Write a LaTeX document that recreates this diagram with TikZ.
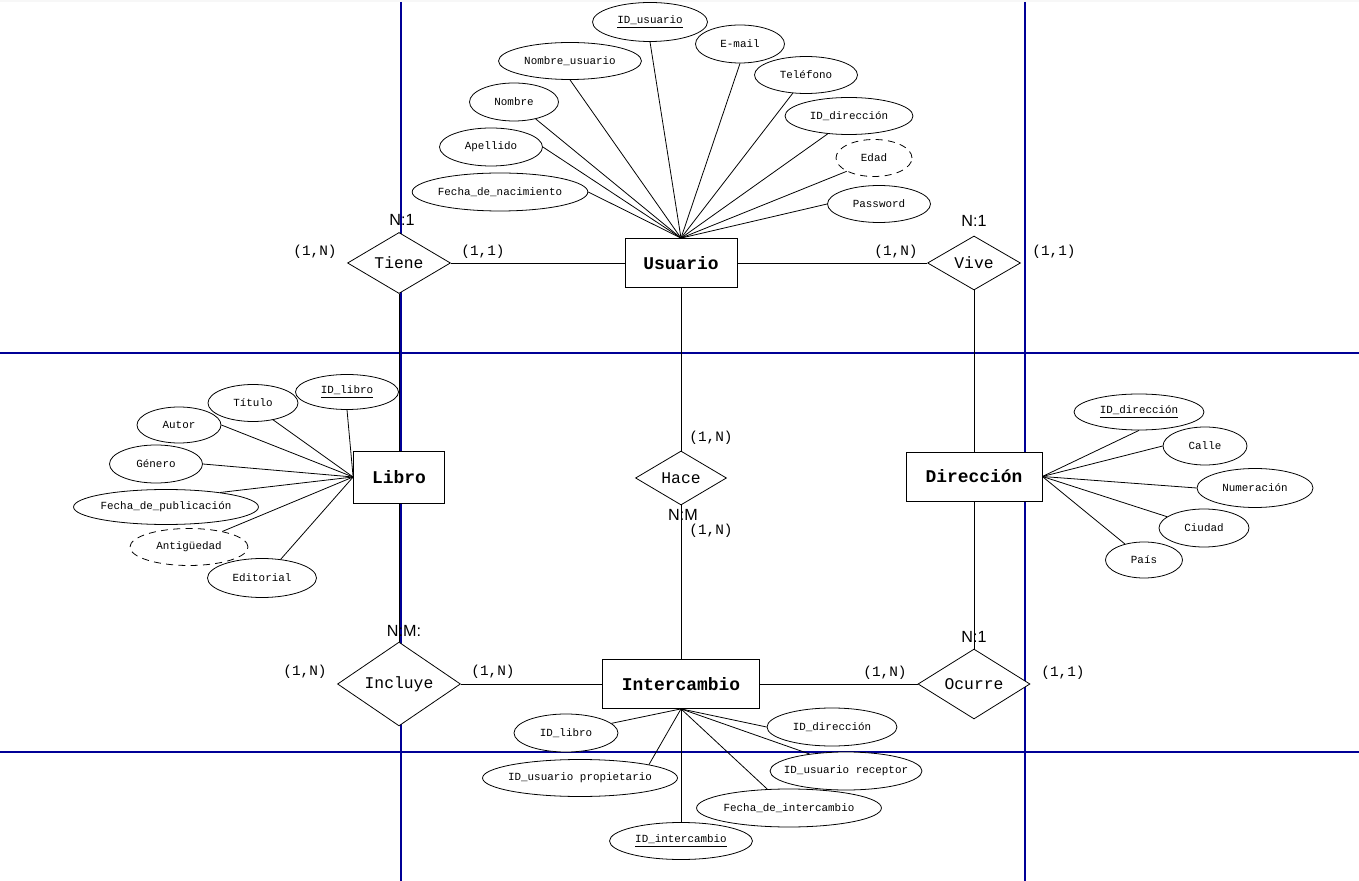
\documentclass[tikz,border=0pt]{standalone}
\usepackage{fontspec}
\setmonofont{Liberation Mono}
\newfontfamily\arialfont{Liberation Sans}
\usetikzlibrary{shapes.geometric}
\definecolor{gridblue}{RGB}{0,0,150}

\begin{document}
\begin{tikzpicture}[x=0.02cm, y=-0.02cm, line width=0.45pt,
  entity/.style={draw, fill=white, inner sep=0pt, minimum height=0.98cm, font=\ttfamily\bfseries\fontsize{10.2}{12}\selectfont},
  rel/.style={draw, diamond, fill=white, inner sep=0pt, font=\ttfamily\fontsize{9.3}{11}\selectfont},
  attr/.style={draw, ellipse, fill=white, inner sep=0pt, minimum height=0.76cm, font=\ttfamily\fontsize{6.2}{7}\selectfont},
  derived/.style={attr, dash pattern=on 4pt off 3pt},
  card/.style={inner sep=0pt, font=\ttfamily\fontsize{8.2}{10}\selectfont},
  ratio/.style={inner sep=0pt, font=\arialfont\fontsize{9.2}{11}\selectfont}]
  \useasboundingbox (0,0) rectangle (1359,881);
  \fill[white] (0,0) rectangle (1359,881);
  \fill[black!3] (0,0) rectangle (1359,2);
  % page guides
  \draw[gridblue, line width=0.6pt] (401,2) -- (401,881) (1025,2) -- (1025,881)
    (0,353) -- (1359,353) (0,752) -- (1359,752);

  \node[entity, minimum width=2.24cm] (usuario) at (681,263) {Usuario};
  \node[entity, minimum width=1.82cm, minimum height=1.04cm] (libro) at (399,477) {Libro};
  \node[entity, minimum width=2.72cm] (direccion) at (974,476.5) {Dirección};
  \node[entity, minimum width=3.14cm] (intercambio) at (681,684) {Intercambio};

  \node[rel, minimum width=2.06cm, minimum height=1.18cm] (tiene) at (399,263) {Tiene};
  \node[rel, minimum width=1.86cm, minimum height=1.08cm] (vive) at (974,263) {Vive};
  \node[rel, minimum width=1.82cm, minimum height=1.08cm] (hace) at (681,478) {Hace};
  \node[rel, minimum width=2.46cm, minimum height=1.44cm] (incluye) at (399,684) {Incluye};
  \node[rel, minimum width=2.24cm, minimum height=1.32cm] (ocurre) at (974,684) {Ocurre};

  \draw (tiene.east) -- (usuario.west);
  \draw (usuario.east) -- (vive.west);
  \draw (tiene.south) -- (libro.north);
  \draw (libro.south) -- (incluye.north);
  \draw (incluye.east) -- (intercambio.west);
  \draw (intercambio.east) -- (ocurre.west);
  \draw (vive.south) -- (direccion.north);
  \draw (direccion.south) -- (ocurre.north);
  \draw (usuario.south) -- (hace.north);
  \draw (hace.south) -- (intercambio.north);

  \node[ratio] (rtiene) at (402,220) {N:1};
  \node[card] (ctiene1) at (315,252) {(1,N)};
  \node[card] (ctiene2) at (483,252) {(1,1)};
  \node[ratio] (rvive) at (974,221) {N:1};
  \node[card] (cvive1) at (896,252) {(1,N)};
  \node[card] (cvive2) at (1054,252) {(1,1)};
  \node[card] (chace1) at (711,438) {(1,N)};
  \node[ratio] (rhace) at (683,515) {N:M};
  \node[card] (chace2) at (711,531) {(1,N)};
  \node[ratio] (rincluye) at (404,631) {N:M:};
  \node[card] (cincluye1) at (305,672) {(1,N)};
  \node[card] (cincluye2) at (493,672) {(1,N)};
  \node[ratio] (rocurre) at (974,637) {N:1};
  \node[card] (cocurre1) at (885,673) {(1,N)};
  \node[card] (cocurre2) at (1063,673) {(1,1)};

  % Usuario
  \node[attr, minimum width=2.3cm, minimum height=0.78cm] (idusuario) at (650,22) {\underline{ID\_usuario}};
  \node[attr, minimum width=1.78cm] (email) at (740,44) {E-mail};
  \node[attr, minimum width=2.86cm, minimum height=0.74cm] (nomusuario) at (570,61) {Nombre\_usuario};
  \node[attr, minimum width=2.06cm, minimum height=0.74cm] (telefono) at (806,75) {Teléfono};
  \node[attr, minimum width=1.78cm] (nombre) at (514,102) {Nombre};
  \node[attr, minimum width=2.56cm, minimum height=0.74cm] (iddirusu) at (849,116) {ID\_dirección};
  \node[attr, minimum width=2.06cm] (apellido) at (491,147) {Apellido};
  \node[derived, minimum width=1.52cm, minimum height=0.74cm] (edad) at (874,158) {Edad};
  \node[attr, minimum width=3.5cm] (fechanac) at (500,192) {Fecha\_de\_nacimiento};
  \node[attr, minimum width=2.06cm, minimum height=0.74cm] (password) at (879,204) {Password};
  \draw (idusuario.south) -- (usuario.north);
  \draw (email.south) -- (usuario.north);
  \draw (nomusuario.south) -- (usuario.north);
  \draw (telefono.-126) -- (usuario.north);
  \draw (nombre.-38) -- (usuario.north);
  \draw (iddirusu.-140) -- (usuario.north);
  \draw (apellido.east) -- (usuario.north);
  \draw (edad.-154) -- (usuario.north);
  \draw (fechanac.east) -- (usuario.north);
  \draw (password.west) -- (usuario.north);

  % Libro
  \node[attr, minimum width=1.8cm, minimum height=0.74cm] (titulo) at (253,403) {Título};
  \node[attr, minimum width=2.06cm, minimum height=0.7cm] (idlibro) at (347,392) {\underline{ID\_libro}};
  \node[attr, minimum width=1.68cm, minimum height=0.72cm] (autor) at (179,425) {Autor};
  \node[attr, minimum width=1.86cm] (genero) at (156,464) {Género};
  \node[attr, minimum width=3.64cm, minimum height=0.7cm] (fechapub) at (166,507) {Fecha\_de\_publicación};
  \node[derived, minimum width=2.36cm, minimum height=0.74cm] (antiguedad) at (189,547) {Antigüedad};
  \node[attr, minimum width=2.18cm, minimum height=0.78cm] (editorial) at (262,578) {Editorial};
  \draw (idlibro.south) -- (libro.west);
  \draw (titulo.-40) -- (libro.west);
  \draw (autor.east) -- (libro.west);
  \draw (genero.east) -- (libro.west);
  \draw (fechapub.15) -- (libro.west);
  \draw (antiguedad.25) -- (libro.west);
  \draw (editorial.45) -- (libro.west);

  % Direccion
  \node[attr, minimum width=2.6cm, minimum height=0.72cm] (iddireccion) at (1139,412) {\underline{ID\_dirección}};
  \node[attr, minimum width=1.68cm] (calle) at (1205,446) {Calle};
  \node[attr, minimum width=2.32cm, minimum height=0.78cm] (numeracion) at (1255,488) {Numeración};
  \node[attr, minimum width=1.8cm] (ciudad) at (1204,528) {Ciudad};
  \node[attr, minimum width=1.54cm, minimum height=0.72cm] (pais) at (1144,560) {País};
  \draw (iddireccion.south) -- (direccion.east);
  \draw (calle.west) -- (direccion.east);
  \draw (numeracion.west) -- (direccion.east);
  \draw (ciudad.163) -- (direccion.east);
  \draw (pais.140) -- (direccion.east);

  % Intercambio
  \node[attr, minimum width=2.08cm] (idlibroint) at (566,733) {ID\_libro};
  \node[attr, minimum width=2.6cm] (iddirint) at (832,727) {ID\_dirección};
  \node[attr, inner xsep=-0.2cm, minimum width=3.9cm, minimum height=0.74cm] (propietario) at (580,778) {ID\_usuario propietario};
  \node[attr, inner xsep=-0.25cm, minimum width=3.04cm] (receptor) at (846,771) {ID\_usuario receptor};
  \node[attr, minimum width=3.64cm] (fechaint) at (789,808) {Fecha\_de\_intercambio};
  \node[attr, minimum width=2.86cm, minimum height=0.74cm] (idintercambio) at (681,841) {\underline{ID\_intercambio}};
  \draw (idlibroint.12) -- (intercambio.south);
  \draw (iddirint.west) -- (intercambio.south);
  \draw (propietario.11) -- (intercambio.south);
  \draw (receptor.155) -- (intercambio.south);
  \draw (fechaint.139) -- (intercambio.south);
  \draw (idintercambio.north) -- (intercambio.south);
\end{tikzpicture}
\end{document}
